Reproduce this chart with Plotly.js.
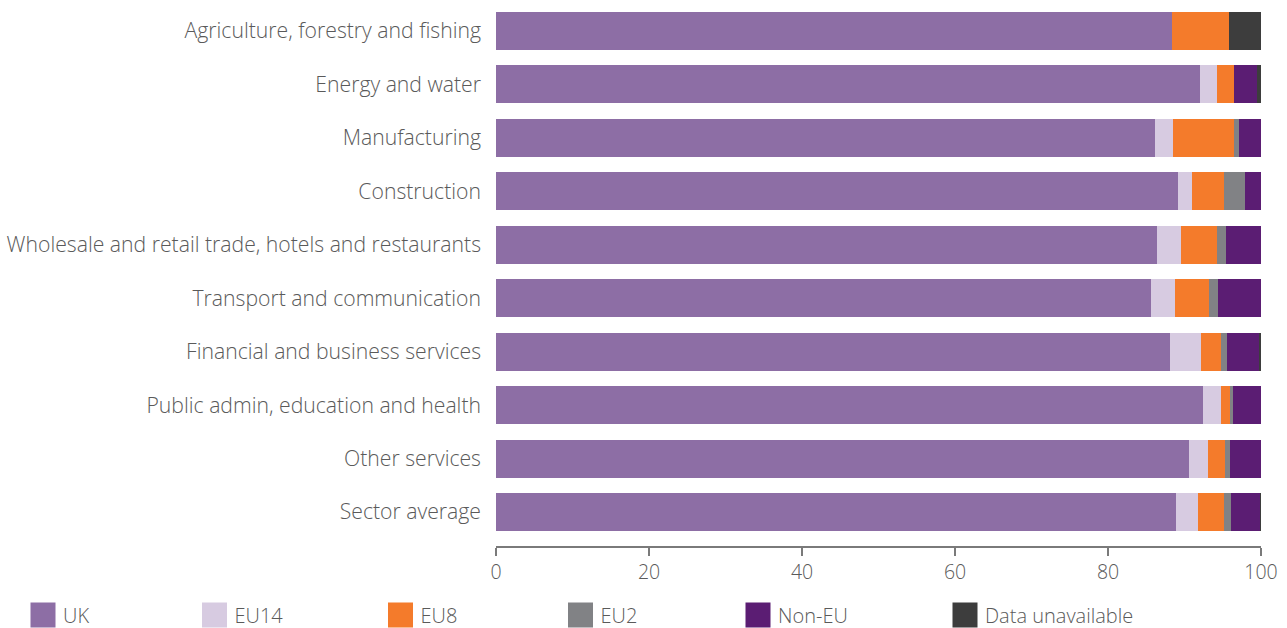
<!DOCTYPE html>
<html>
<head>
<meta charset="utf-8">
<script src="https://cdn.plot.ly/plotly-3.0.1.min.js"></script>
<style>html,body{margin:0;padding:0;background:#fff;}#chart{width:1287px;height:628px;}</style>
</head>
<body>
<div id="chart"></div>
<script>
const categories = [
  "Agriculture, forestry and fishing",
  "Energy and water",
  "Manufacturing",
  "Construction",
  "Wholesale and retail trade, hotels and restaurants",
  "Transport and communication",
  "Financial and business services",
  "Public admin, education and health",
  "Other services",
  "Sector average"
];
const seriesNames = ["UK", "EU14", "EU8", "EU2", "Non-EU", "Data unavailable"];
const uk      = [88.4, 92.0, 86.1, 89.2, 86.4, 85.6, 88.1, 92.4, 90.6, 88.9];
const eu14    = [0.0, 2.2, 2.4, 1.8, 3.1, 3.2, 4.0, 2.4, 2.5, 2.9];
const eu8     = [7.4, 2.3, 8.0, 4.2, 4.7, 4.4, 2.7, 1.2, 2.2, 3.4];
const eu2     = [0.0, 0.0, 0.6, 2.7, 1.2, 1.2, 0.8, 0.3, 0.7, 0.9];
const nonEu   = [0.0, 3.0, 2.9, 2.1, 4.6, 5.6, 4.2, 3.7, 4.0, 3.8];
const unavail = [4.2, 0.5, 0.0, 0.0, 0.0, 0.0, 0.2, 0.0, 0.0, 0.1];
const xTicks = [0, 20, 40, 60, 80, 100];

const colors = ["#8d6ea5", "#d7cbe1", "#f47b2b", "#818285", "#5b1d73", "#3d3d3d"];
const values = [uk, eu14, eu8, eu2, nonEu, unavail];
const legendX = [23, 194.5, 380.5, 560.5, 738, 945];
const textColor = "#5a5a5a";
const fontFam = "'Open Sans', 'Noto Sans', sans-serif";

const traces = [];
values.forEach((v, i) => {
  traces.push({
    type: "bar", orientation: "h", name: seriesNames[i],
    y: categories, x: v,
    marker: {color: colors[i], line: {width: 0}},
    showlegend: false, hoverinfo: "x+name"
  });
});
// legend entries
values.forEach((v, i) => {
  traces.push({
    type: "scatter", mode: "markers", name: seriesNames[i],
    x: [null], y: [null],
    marker: {symbol: "square", size: 16, color: colors[i], line: {width: 0}},
    legend: i === 0 ? "legend" : "legend" + (i + 1),
    showlegend: true, hoverinfo: "skip"
  });
});

const layout = {
  width: 1287, height: 628,
  margin: {l: 496, r: 26, t: 4, b: 82},
  barmode: "stack", bargap: 0.29,
  paper_bgcolor: "#fff", plot_bgcolor: "#fff",
  font: {family: fontFam, color: textColor, size: 19},
  xaxis: {
    range: [0, 100], tickvals: xTicks, ticktext: xTicks.map(String),
    showgrid: false, zeroline: false, showline: true, linecolor: "#7a7a7a", linewidth: 1.5,
    ticks: "outside", ticklen: 8, tickcolor: "#7a7a7a", tickwidth: 1.5,
    tickfont: {size: 19.5, color: textColor, family: fontFam, weight: 300}, fixedrange: true
  },
  yaxis: {
    type: "category", range: [9.635, -0.5], categoryorder: "array", categoryarray: categories,
    showgrid: false, zeroline: false, showline: false, ticks: "",
    ticklabelstandoff: 14,
    tickfont: {size: 21.2, color: textColor, family: fontFam, weight: 300}, fixedrange: true
  },
  showlegend: true
};
for (let i = 0; i < 6; i++) {
  const key = i === 0 ? "legend" : "legend" + (i + 1);
  layout[key] = {
    x: legendX[i] / 1287, y: (628 - 615) / 628, xref: "container", yref: "container",
    xanchor: "left", yanchor: "middle", orientation: "h",
    bgcolor: "rgba(0,0,0,0)", borderwidth: 0,
    font: {size: 20, color: textColor, family: fontFam, weight: 300},
    itemsizing: "trace"
  };
}

Plotly.newPlot("chart", traces, layout, {displayModeBar: false, staticPlot: true}).then(function (gd) {
  // enlarge legend swatches (all legends) to match the reference's larger squares
  gd.querySelectorAll(".legendpoints path").forEach(function (p) {
    p.setAttribute("d", "M12.5,12.5H-12.5V-12.5H12.5Z");
  });
});
</script>
</body>
</html>
